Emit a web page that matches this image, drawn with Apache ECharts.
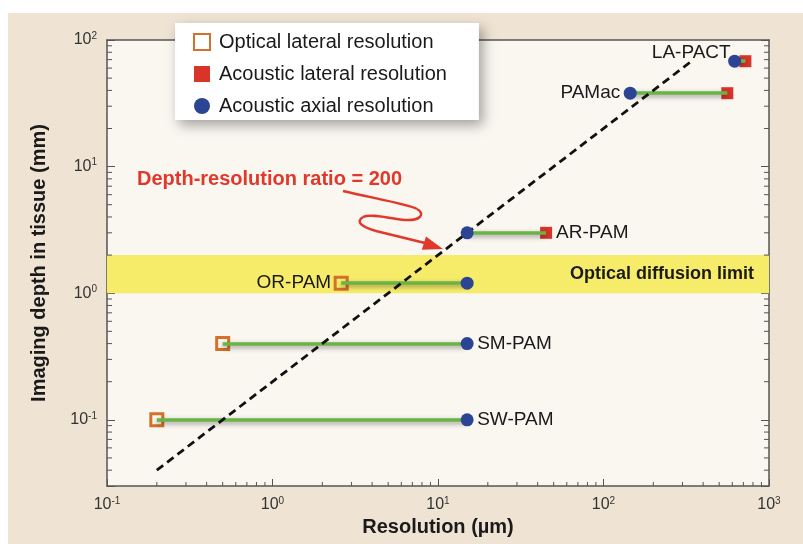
<!DOCTYPE html>
<html>
<head>
<meta charset="utf-8">
<script src="https://cdn.jsdelivr.net/npm/echarts@6/dist/echarts.min.js"></script>
<style>
html, body { margin: 0; padding: 0; background: #fff; }
#frame { position: absolute; left: 8px; top: 13px; width: 795px; height: 531px; background: #efe4d4; }
#chart { position: absolute; left: 0; top: 0; width: 803px; height: 544px; }
</style>
</head>
<body>
<div id="frame"></div>
<div id="chart"></div>
<script>
// photoacoustic systems, top to bottom
var systems = ['LA-PACT', 'PAMac', 'AR-PAM', 'OR-PAM', 'SM-PAM', 'SW-PAM'];
var depth = [68, 38, 3.0, 1.2, 0.4, 0.1];                  // mm
var opticalLateral = [null, null, null, 2.6, 0.5, 0.2];    // um
var acousticLateral = [720, 560, 45, null, null, null];    // um
var acousticAxial = [620, 145, 15, 15, 15, 15];            // um

// depth / resolution = 200
var ratioLine = [[0.2, 0.04], [340, 68]];
var diffusionLimit = [1, 2];   // mm

var xTicks = [0.1, 1, 10, 100, 1000];
var yTicks = [0.1, 1, 10, 100];

var FONT = 'Liberation Sans, Arial, Helvetica, sans-serif';
var AXIS = '#555';
var RED = '#e0392b';

function isTick(v, list) {
  for (var i = 0; i < list.length; i++) {
    if (Math.abs(v - list[i]) / list[i] < 1e-6) return true;
  }
  return false;
}
function powLabel(list) {
  return function (v) {
    if (!isTick(v, list)) return '';
    return '{b|10}{s|' + Math.round(Math.log10(v)) + '}';
  };
}
var tickRich = {
  b: { fontSize: 16, fontFamily: FONT, color: '#333', lineHeight: 18 },
  s: { fontSize: 10, fontFamily: FONT, color: '#333', lineHeight: 10, verticalAlign: 'top' }
};

// minor ticks (2..9 in every decade)
var xMinor = [], yMinor = [];
[-1, 0, 1, 2].forEach(function (e) {
  for (var m = 2; m <= 9; m++) xMinor.push([m * Math.pow(10, e), 1]);
});
[-2, -1, 0, 1].forEach(function (e) {
  for (var m = 2; m <= 9; m++) {
    var v = m * Math.pow(10, e);
    if (v > 0.03 && v < 100) yMinor.push([1, v]);
  }
});

var links = [], orange = [], red = [], blue = [], names = [];
var side = ['left', 'left', 'right', 'left', 'right', 'right'];
systems.forEach(function (s, i) {
  var xs = [opticalLateral[i], acousticLateral[i], acousticAxial[i]].filter(function (v) { return v != null; });
  var lo = Math.min.apply(null, xs), hi = Math.max.apply(null, xs);
  links.push({ coords: [[lo, depth[i]], [hi, depth[i]]] });
  if (opticalLateral[i] != null) orange.push([opticalLateral[i], depth[i]]);
  if (acousticLateral[i] != null) red.push([acousticLateral[i], depth[i]]);
  if (acousticAxial[i] != null) blue.push([acousticAxial[i], depth[i]]);
  names.push({
    name: s,
    value: [side[i] == 'left' ? lo : hi, depth[i]],
    label: { position: side[i], distance: i == 0 ? 4 : 10, offset: i == 0 ? [0, -8] : [0, 0] }
  });
});

function curve(a, c1, c2, b) {
  return {
    type: 'bezierCurve', z: 100, silent: true,
    shape: { x1: a[0], y1: a[1], cpx1: c1[0], cpy1: c1[1], cpx2: c2[0], cpy2: c2[1], x2: b[0], y2: b[1] },
    style: { stroke: RED, lineWidth: 2.5, fill: null }
  };
}

var chart = echarts.init(document.getElementById('chart'));
chart.setOption({
  backgroundColor: 'transparent',
  animation: false,
  textStyle: { fontFamily: FONT },
  grid: { left: 107, right: 34, top: 40, bottom: 58, show: true, backgroundColor: '#faf6f0', borderWidth: 0 },
  legend: {
    orient: 'vertical',
    left: 175, top: 23,
    padding: [9, 32, 4, 18],
    itemGap: 12,
    itemWidth: 16, itemHeight: 16,
    backgroundColor: '#fff',
    shadowBlur: 12, shadowColor: 'rgba(0,0,0,0.35)', shadowOffsetX: 4, shadowOffsetY: 5,
    selectedMode: false,
    textStyle: { fontSize: 20, color: '#1a1a1a', lineHeight: 20, padding: [0, 0, 0, 4] },
    data: ['Optical lateral resolution', 'Acoustic lateral resolution', 'Acoustic axial resolution']
  },
  xAxis: [{
    type: 'log', logBase: 10, min: 0.1, max: 1000,
    position: 'bottom',
    name: 'Resolution (\u00b5m)', nameLocation: 'middle', nameGap: 31,
    nameTextStyle: { fontSize: 20, fontWeight: 'bold', color: '#1a1a1a' },
    axisLine: { lineStyle: { color: AXIS, width: 1.5 } },
    axisTick: { inside: true, length: 7, lineStyle: { color: AXIS } },
    splitLine: { show: false },
    axisLabel: { margin: 10, formatter: powLabel(xTicks), rich: tickRich }
  }, {
    type: 'log', logBase: 10, min: 0.1, max: 1000,
    position: 'top',
    axisLine: { lineStyle: { color: AXIS, width: 1.5 } },
    axisTick: { show: false }, axisLabel: { show: false }, splitLine: { show: false }
  }],
  yAxis: [{
    type: 'log', logBase: 10, min: 0.03, max: 100,
    position: 'left',
    name: 'Imaging depth in tissue (mm)', nameLocation: 'middle', nameGap: 58,
    nameTextStyle: { fontSize: 20, fontWeight: 'bold', color: '#1a1a1a' },
    axisLine: { lineStyle: { color: AXIS, width: 1.5 } },
    axisTick: { inside: true, length: 8, lineStyle: { color: AXIS } },
    splitLine: { show: false },
    axisLabel: { margin: 10, formatter: powLabel(yTicks), rich: tickRich }
  }, {
    type: 'log', logBase: 10, min: 0.03, max: 100,
    position: 'right',
    axisLine: { lineStyle: { color: AXIS, width: 1.5 } },
    axisTick: { inside: true, length: 8, lineStyle: { color: AXIS } },
    axisLabel: { show: false }, splitLine: { show: false }
  }],
  series: [{
    type: 'line', data: [], z: 1, silent: true,
    markArea: {
      silent: true,
      itemStyle: { color: '#f7ec6a' },
      label: { position: 'insideRight', distance: 15, fontSize: 18, fontWeight: 'bold', color: '#1a1a1a' },
      data: [[{ name: 'Optical diffusion limit', yAxis: diffusionLimit[0] }, { yAxis: diffusionLimit[1] }]]
    }
  }, {
    type: 'custom', silent: true, z: 2, data: xMinor,
    renderItem: function (params, api) {
      var p = api.coord([api.value(0), api.value(1)]);
      var cs = params.coordSys;
      var b = cs.y + cs.height;
      return { type: 'line', shape: { x1: p[0], y1: b, x2: p[0], y2: b - 4 }, style: { stroke: AXIS, lineWidth: 1 } };
    }
  }, {
    type: 'custom', silent: true, z: 2, data: yMinor,
    renderItem: function (params, api) {
      var p = api.coord([api.value(0), api.value(1)]);
      var cs = params.coordSys;
      return { type: 'group', children: [
        { type: 'line', shape: { x1: cs.x, y1: p[1], x2: cs.x + 5, y2: p[1] }, style: { stroke: AXIS, lineWidth: 1 } },
        { type: 'line', shape: { x1: cs.x + cs.width, y1: p[1], x2: cs.x + cs.width - 5, y2: p[1] }, style: { stroke: AXIS, lineWidth: 1 } }
      ] };
    }
  }, {
    name: 'Optical lateral resolution', type: 'scatter', z: 3,
    symbol: 'rect', symbolSize: 12,
    itemStyle: { color: 'rgba(0,0,0,0)', borderColor: '#d4702a', borderWidth: 3, opacity: 1 },
    data: orange
  }, {
    name: 'Acoustic lateral resolution', type: 'scatter', z: 3,
    symbol: 'rect', symbolSize: 12,
    itemStyle: { color: '#d8342a', opacity: 1 },
    data: red
  }, {
    type: 'lines', coordinateSystem: 'cartesian2d', z: 4, silent: true,
    lineStyle: { color: '#6ab446', width: 3.5, opacity: 1, shadowColor: 'rgba(0,0,0,0.4)', shadowBlur: 5, shadowOffsetY: 2 },
    data: links
  }, {
    type: 'line', z: 5, silent: true, symbol: 'none',
    lineStyle: { color: '#111', width: 2.8, type: [8, 5] },
    data: ratioLine
  }, {
    name: 'Acoustic axial resolution', type: 'scatter', z: 6,
    symbol: 'circle', symbolSize: 13,
    itemStyle: { color: '#2b4594', opacity: 1 },
    data: blue
  }, {
    type: 'scatter', z: 7, silent: true, symbolSize: 0,
    itemStyle: { opacity: 1 },
    label: { show: true, formatter: '{b}', fontSize: 19, color: '#1a1a1a', opacity: 1 },
    data: names
  }],
  graphic: [{
    type: 'text', left: 137, top: 169, z: 100,
    style: { text: 'Depth-resolution ratio = 200', font: 'bold 20px ' + FONT, fill: RED }
  },
    curve([343, 191], [372, 198], [408, 204], [417, 209]),
    curve([417, 209], [426, 214], [420, 221], [405, 220]),
    curve([405, 220], [390, 219], [372, 213], [363, 217]),
    curve([363, 217], [355, 222], [362, 227], [376, 231]),
  {
    type: 'line', z: 100, silent: true,
    shape: { x1: 376, y1: 231, x2: 425, y2: 243 },
    style: { stroke: RED, lineWidth: 2.5 }
  }, {
    type: 'polygon', z: 100, silent: true,
    shape: { points: [[443, 249], [426, 236.4], [421.8, 249.8]] },
    style: { fill: RED }
  }]
});
</script>
</body>
</html>
